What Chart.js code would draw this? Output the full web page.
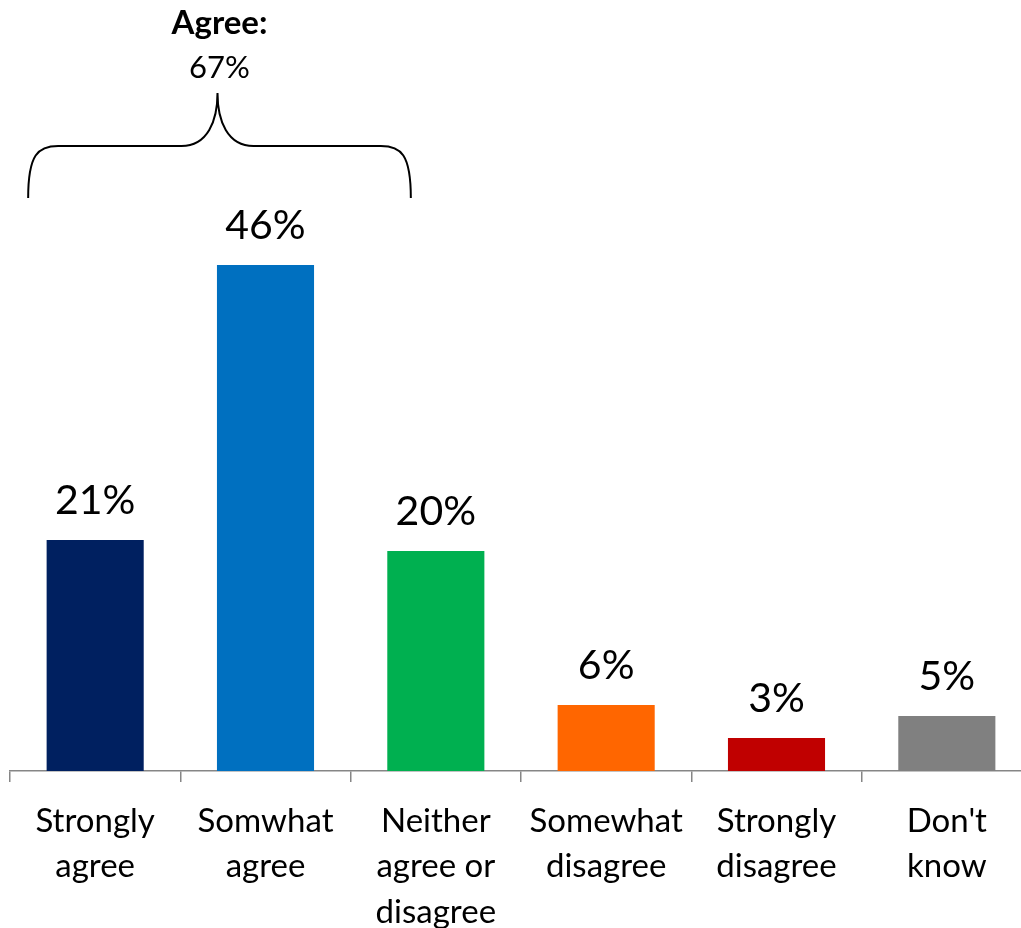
<!DOCTYPE html>
<html>
<head>
<meta charset="utf-8">
<script src="https://cdn.jsdelivr.net/npm/chart.js@4"></script>
<style>
html,body{margin:0;padding:0;background:#fff;overflow:hidden;}
#wrap{position:relative;width:1021px;height:928px;overflow:hidden;}
#wrap canvas{position:absolute;left:0;top:0;}
</style>
</head>
<body>
<div id="wrap"><canvas id="chart" width="1032" height="928" style="width:1032px;height:928px"></canvas></div>
<script>
const categories = [
["Strongly","agree"],
["Somwhat","agree"],
["Neither","agree or","disagree"],
["Somewhat","disagree"],
["Strongly","disagree"],
["Don't","know"]
];
const values = [21, 46, 20, 6, 3, 5];
const barColors = ['#002060','#0070C0','#00B050','#FF6600','#C00000','#808080'];
const agreeTitle = "Agree:";
const agreeTotal = "67%";

const FONT = "Lato, 'Open Sans', sans-serif";

const labelsPlugin = {
id:'labelsPlugin',
afterDatasetsDraw(chart){
const c = chart.ctx;
const meta = chart.getDatasetMeta(0);
c.save();
c.fillStyle = '#000';
c.textAlign = 'center';
c.textBaseline = 'middle';
c.font = "41px " + FONT;
meta.data.forEach((bar,i)=>{
c.fillText(values[i] + '%', bar.x, bar.y - 39);
});

// brace over the agree bars
const x = chart.scales.x;
const left = x.getPixelForValue(0) - 67;
const right = x.getPixelForValue(2) - 25;
const mid = x.getPixelForValue(1) - 48;
const yb = 198, yh = 146, yt = 93;
c.strokeStyle = '#000';
c.lineWidth = 2;
c.beginPath();
c.moveTo(left, yb);
c.bezierCurveTo(left, yh + 8, left + 10, yh, left + 30, yh);
c.lineTo(mid - 36, yh);
c.bezierCurveTo(mid - 10, yh, mid, yh - 25, mid, yt);
c.bezierCurveTo(mid, yh - 25, mid + 10, yh, mid + 36, yh);
c.lineTo(right - 30, yh);
c.bezierCurveTo(right - 10, yh, right, yh + 8, right, yb);
c.stroke();

c.font = "bold 33px " + FONT;
c.fillText(agreeTitle, mid + 2, 23);
c.font = "31px " + FONT;
c.fillText(agreeTotal, mid + 2, 68);
c.restore();
}
};

const ctx = document.getElementById("chart");

new Chart(ctx,{
type:'bar',
data:{
labels:categories,
datasets:[{
data:values,
backgroundColor:barColors,
borderWidth:0,
barPercentage:0.57,
categoryPercentage:1
}]
},
options:{
responsive:false,
animation:false,
layout:{
padding:{left:10,right:0,top:111,bottom:0}
},
plugins:{
legend:{display:false},
tooltip:{enabled:false}
},
scales:{
x:{
grid:{
display:true,
drawOnChartArea:false,
drawTicks:true,
tickLength:11,
color:'#868686',
lineWidth:1.5
},
border:{display:true,color:'#868686',width:1.5},
ticks:{
color:'#000',
font:{family:FONT,size:33,lineHeight:1.37},
padding:17,
maxRotation:0,
autoSkip:false
},
afterFit(scale){ scale.height = 157; }
},
y:{
display:false,
min:0,
max:60
}
}
},
plugins:[labelsPlugin]
});
</script>
</body>
</html>
